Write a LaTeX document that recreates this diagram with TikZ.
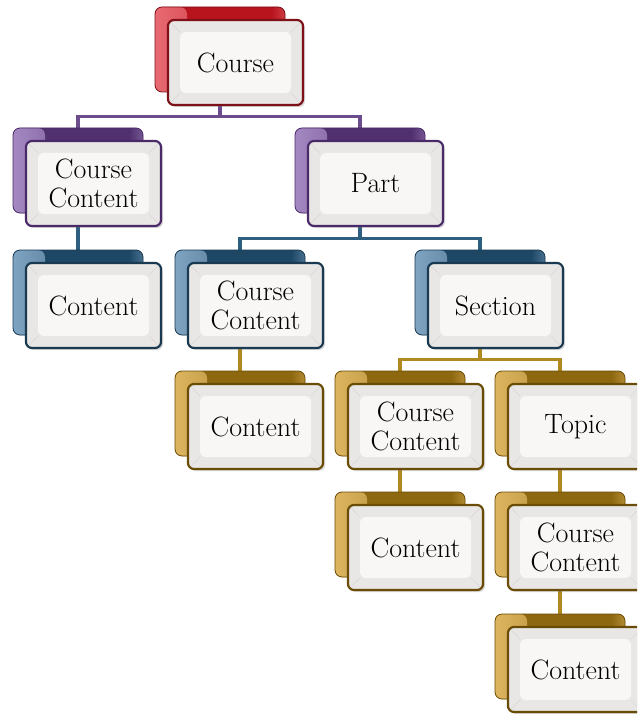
\documentclass[tikz,border=0pt]{standalone}
\usepackage{fontspec}
\usetikzlibrary{shadows}
\pgfdeclarelayer{background}
\pgfsetlayers{background,main}
\definecolor{redL}{HTML}{E86A72}\definecolor{redD}{HTML}{B8141E}\definecolor{redB}{HTML}{7E1018}\definecolor{redC}{HTML}{9A1A22}
\definecolor{purL}{HTML}{A488C2}\definecolor{purD}{HTML}{50306E}\definecolor{purB}{HTML}{4A2A68}\definecolor{purC}{HTML}{6B4D8E}
\definecolor{bluL}{HTML}{7FA4C2}\definecolor{bluD}{HTML}{1E4766}\definecolor{bluB}{HTML}{1A3A52}\definecolor{bluC}{HTML}{2E5E80}
\definecolor{golL}{HTML}{DDB560}\definecolor{golD}{HTML}{8E6810}\definecolor{golB}{HTML}{6A4C06}\definecolor{golC}{HTML}{B08A1E}
\definecolor{frontout}{HTML}{E8E7E5}
\definecolor{frontin}{HTML}{F8F7F5}
\definecolor{bevel}{HTML}{D8D6D4}
\tikzset{
  backbox/.style={minimum width=130pt, minimum height=85pt, rounded corners=7pt,
    inner sep=0pt, draw=#1B, line width=0.8pt, fill=#1D,
    path picture={
      \shade[left color=#1L, right color=#1D]
        (path picture bounding box.north west) rectangle ([xshift=32pt]path picture bounding box.south west);
      \shade[left color=#1D, right color=#1L, opacity=0.45]
        ([xshift=-14pt]path picture bounding box.north east) rectangle ([yshift=20pt]path picture bounding box.east);
    }},
  frontbox/.style={minimum width=135pt, minimum height=85pt, rounded corners=6pt,
    inner sep=0pt, draw=#1B, line width=2.2pt, fill=frontout,
    drop shadow={shadow xshift=2pt, shadow yshift=-2pt, opacity=0.3},
    align=center, font=\fontsize{28}{29}\selectfont,
    path picture={
      \coordinate (nw) at (path picture bounding box.north west);
      \coordinate (se) at (path picture bounding box.south east);
      \coordinate (ne) at (path picture bounding box.north east);
      \coordinate (sw) at (path picture bounding box.south west);
      \fill[frontin] ([shift={(12pt,-12pt)}]nw) rectangle ([shift={(-12pt,12pt)}]se);
      \draw[bevel, line width=0.6pt] (nw) -- ([shift={(12pt,-12pt)}]nw)
        (ne) -- ([shift={(-12pt,-12pt)}]ne)
        (se) -- ([shift={(-12pt,12pt)}]se)
        (sw) -- ([shift={(12pt,12pt)}]sw);
    }},
  link/.style={line width=3.2pt, draw=#1C}
}
\newcommand{\orgnode}[5]{%
  \node[backbox=#4] (#1b) at (#2+65,#3+42.5) {};
  \node[frontbox=#4] (#1) at (#2+80.5,#3+55.5) {#5};
}
\begin{document}
\begin{tikzpicture}[x=1pt,y=-1pt]
\useasboundingbox (0,0) rectangle (637,714);
\clip (0,0) rectangle (637,714);
\orgnode{course}{155}{7}{red}{Course}
\orgnode{ccA}{13}{128}{pur}{Course\\Content}
\orgnode{part}{295}{128}{pur}{Part}
\orgnode{conA}{13}{250}{blu}{Content}
\orgnode{ccB}{175}{250}{blu}{Course\\Content}
\orgnode{section}{415}{250}{blu}{Section}
\orgnode{conB}{175}{371}{gol}{Content}
\orgnode{ccC}{335}{371}{gol}{Course\\Content}
\orgnode{topic}{495}{371}{gol}{Topic}
\orgnode{conC}{335}{492}{gol}{Content}
\orgnode{ccD}{495}{492}{gol}{Course\\Content}
\orgnode{conD}{495}{614}{gol}{Content}
\begin{pgfonlayer}{background}
  \draw[link=pur] (courseb.south) |- ([yshift=11pt]ccAb.north) -- (ccAb.north);
  \draw[link=pur] (courseb.south) |- ([yshift=11pt]partb.north) -- (partb.north);
  \draw[link=blu] (ccAb.south) -- (conAb.north);
  \draw[link=blu] (partb.south) |- ([yshift=11pt]ccBb.north) -- (ccBb.north);
  \draw[link=blu] (partb.south) |- ([yshift=11pt]sectionb.north) -- (sectionb.north);
  \draw[link=gol] (ccBb.south) -- (conBb.north);
  \draw[link=gol] (sectionb.south) |- ([yshift=11pt]ccCb.north) -- (ccCb.north);
  \draw[link=gol] (sectionb.south) |- ([yshift=11pt]topicb.north) -- (topicb.north);
  \draw[link=gol] (ccCb.south) -- (conCb.north);
  \draw[link=gol] (topicb.south) -- (ccDb.north);
  \draw[link=gol] (ccDb.south) -- (conDb.north);
\end{pgfonlayer}
\end{tikzpicture}
\end{document}
